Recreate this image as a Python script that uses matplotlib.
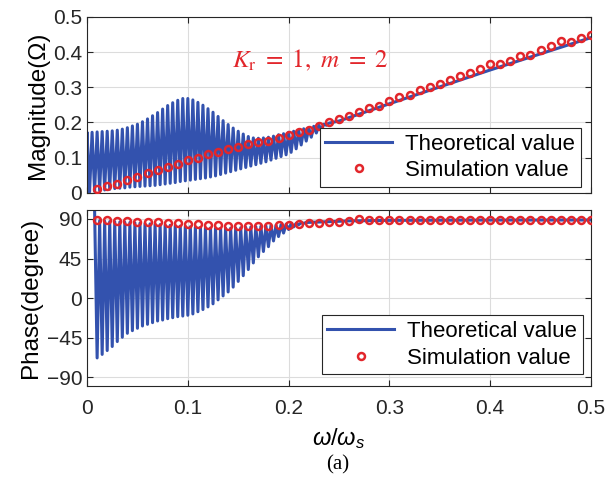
import numpy as np
import matplotlib
matplotlib.use("Agg")
import matplotlib.pyplot as plt

plt.rcParams['font.family'] = ['Liberation Sans', 'DejaVu Sans']
plt.rcParams['mathtext.fontset'] = 'custom'
plt.rcParams['mathtext.it'] = 'Liberation Sans:italic'
plt.rcParams['mathtext.rm'] = 'Liberation Sans'

BLUE = '#3352ae'
RED = '#e2262b'

# --- theoretical magnitude: oscillating part (peaks / troughs), then smooth tail ---
mag_peaks = [0.172, 0.172, 0.173, 0.174, 0.175, 0.176, 0.178, 0.181, 0.185, 0.190,
             0.195, 0.202, 0.210, 0.219, 0.228, 0.238, 0.248, 0.256, 0.263, 0.268,
             0.268, 0.264, 0.257, 0.249, 0.239, 0.229, 0.217, 0.205, 0.194, 0.184,
             0.175, 0.167, 0.160, 0.156, 0.155, 0.156, 0.158, 0.161, 0.165, 0.168,
             0.172, 0.175, 0.178, 0.182, 0.185, 0.189, 0.192, 0.195, 0.198]
mag_troughs = [0.002, 0.004, 0.006, 0.008, 0.010, 0.012, 0.013, 0.014, 0.016, 0.017,
               0.018, 0.019, 0.020, 0.021, 0.023, 0.025, 0.027, 0.029, 0.032, 0.034,
               0.036, 0.038, 0.040, 0.042, 0.045, 0.048, 0.052, 0.056, 0.060, 0.064,
               0.068, 0.072, 0.076, 0.080, 0.084, 0.088, 0.093, 0.098, 0.103, 0.108,
               0.115, 0.125, 0.136, 0.147, 0.158, 0.170, 0.181, 0.192]
mag_tail_x = [0.25, 0.30, 0.35, 0.40, 0.45, 0.50]
mag_tail = [0.204, 0.253, 0.301, 0.349, 0.395, 0.441]

# --- theoretical phase ---
ph_peaks = [100, 88, 87.5, 87, 86.8, 86.5, 86.2, 86, 85.6, 85.2,
            84.8, 84.4, 84, 83.6, 83.2, 82.8, 82.4, 82, 81.6, 81.2,
            80.8, 80.4, 80, 79.8, 79.6, 79.5, 79.5, 79.6, 79.8, 80,
            80.4, 80.8, 81.2, 81.6, 82, 82.5, 83, 83.5, 84, 84.5,
            85, 85.5, 86]
ph_troughs = [-68, -64, -59.6, -55, -49.4, -44.5, -40, -37, -34.3, -31.7,
              -29.8, -27.9, -26, -24.9, -23.4, -22.3, -21.1, -20.4, -19.5, -18,
              -15.5, -13, -10, -6.5, -2, 2.5, 7, 12.5, 19, 25.5,
              32.5, 40, 47, 53, 58.5, 65, 70, 74, 78, 81,
              83.5, 85]
ph_tail_x = [0.23, 0.26, 0.30, 0.40, 0.50]
ph_tail = [86.5, 87.8, 88.4, 88.7, 88.8]

# --- simulation points ---
sim_x = [round(0.01 * i, 2) for i in range(1, 51)]
sim_mag = [0.010, 0.018, 0.026, 0.037, 0.045, 0.056, 0.065, 0.073, 0.082, 0.092,
           0.100, 0.110, 0.117, 0.124, 0.130, 0.138, 0.144, 0.148, 0.155, 0.164,
           0.172, 0.179, 0.189, 0.200, 0.210, 0.219, 0.229, 0.240, 0.248, 0.260,
           0.271, 0.279, 0.291, 0.300, 0.310, 0.320, 0.332, 0.340, 0.351, 0.365,
           0.367, 0.374, 0.390, 0.392, 0.406, 0.416, 0.432, 0.428, 0.440, 0.449]
sim_phase = [89, 88.5, 88, 87.5, 87, 86.5, 86, 85.5, 85, 84.5,
             84, 83.3, 82.7, 82, 81.5, 81.5, 81.8, 82.3, 82.8, 83.5,
             84.2, 85, 85.8, 86.5, 87, 87.5, 90, 88.3, 88.5, 88.5,
             88.5, 88.5, 88.5, 88.5, 88.5, 88.5, 88.5, 88.5, 88.5, 88.5,
             88.5, 88.5, 88.5, 88.5, 88.5, 88.5, 88.5, 88.5, 88.5, 88.5]


def interleave(first, second, x_first, x_second):
    # merge two alternating sequences into one zig-zag line
    pts = sorted(list(zip(x_first, first)) + list(zip(x_second, second)))
    return [p[0] for p in pts], [p[1] for p in pts]


mx, my = interleave(mag_peaks, mag_troughs,
                    0.005 * np.arange(len(mag_peaks)),
                    0.0025 + 0.005 * np.arange(len(mag_troughs)))
mx = [0.0] + mx + mag_tail_x
my = [0.0] + my + mag_tail

px, py = interleave(ph_peaks, ph_troughs,
                    0.0075 + 0.005 * np.arange(len(ph_peaks)),
                    0.01 + 0.005 * np.arange(len(ph_troughs)))
px = px + ph_tail_x
py = py + ph_tail

fig = plt.figure(figsize=(6.13, 4.82), dpi=100)
ax1 = fig.add_axes([0.142, 0.600, 0.822, 0.365])
ax2 = fig.add_axes([0.142, 0.199, 0.822, 0.365])

for ax in (ax1, ax2):
    ax.grid(True, color='#dcdcdc', linewidth=0.8)
    ax.set_axisbelow(True)
    ax.tick_params(direction='in', top=True, right=True, labelsize=15,
                   length=4, width=0.8, colors='#262626')
    for s in ax.spines.values():
        s.set_color('#262626')
        s.set_linewidth(0.8)
    ax.set_xlim(0, 0.5)
    ax.set_xticks([0, 0.1, 0.2, 0.3, 0.4, 0.5])

ax1.plot(mx, my, color=BLUE, lw=2.2, label='Theoretical value', zorder=2)
ax1.plot(sim_x, sim_mag, 'o', ls='none', mec=RED, mfc='none', mew=1.8, ms=5,
         label='Simulation value', zorder=3)
ax1.set_ylim(0, 0.5)
ax1.set_yticks([0, 0.1, 0.2, 0.3, 0.4, 0.5])
ax1.set_yticklabels(['0', '0.1', '0.2', '0.3', '0.4', '0.5'])
ax1.set_xticklabels([])
ax1.set_ylabel('Magnitude(Ω)', fontsize=17.5, labelpad=3)
ax1.text(0.144, 0.376, r'$K_{\mathrm{r}}\ =\ 1,\ m\ =\ 2$', color=RED, fontsize=18,
         va='center', ha='left', math_fontfamily='stix')

ax2.plot(px, py, color=BLUE, lw=2.2, label='Theoretical value', zorder=2)
ax2.plot(sim_x, sim_phase, 'o', ls='none', mec=RED, mfc='none', mew=1.8, ms=5,
         label='Simulation value', zorder=3)
ax2.set_ylim(-100, 100)
ax2.set_yticks([-90, -45, 0, 45, 90])
ax2.set_xticklabels(['0', '0.1', '0.2', '0.3', '0.4', '0.5'])
ax2.tick_params(axis='x', pad=9)
ax2.set_ylabel('Phase(degree)', fontsize=17.5, labelpad=3)
ax2.set_xlabel(r'$\omega/\omega_s$', fontsize=17, labelpad=6)

for ax, anchor in ((ax1, (0.980, 0.034)), (ax2, (0.984, 0.068))):
    leg = ax.legend(loc='lower right', bbox_to_anchor=anchor, borderaxespad=0,
                    fontsize=16, numpoints=1, handlelength=3.0, handletextpad=0.6,
                    labelspacing=0.25, borderpad=0.25, fancybox=False,
                    edgecolor='#262626', framealpha=1)
    leg.get_frame().set_linewidth(0.8)

fig.text(0.551, 0.035, '(a)', fontsize=15, family='Liberation Serif',
         ha='center', va='center')

fig.savefig('out.png', dpi=100)
